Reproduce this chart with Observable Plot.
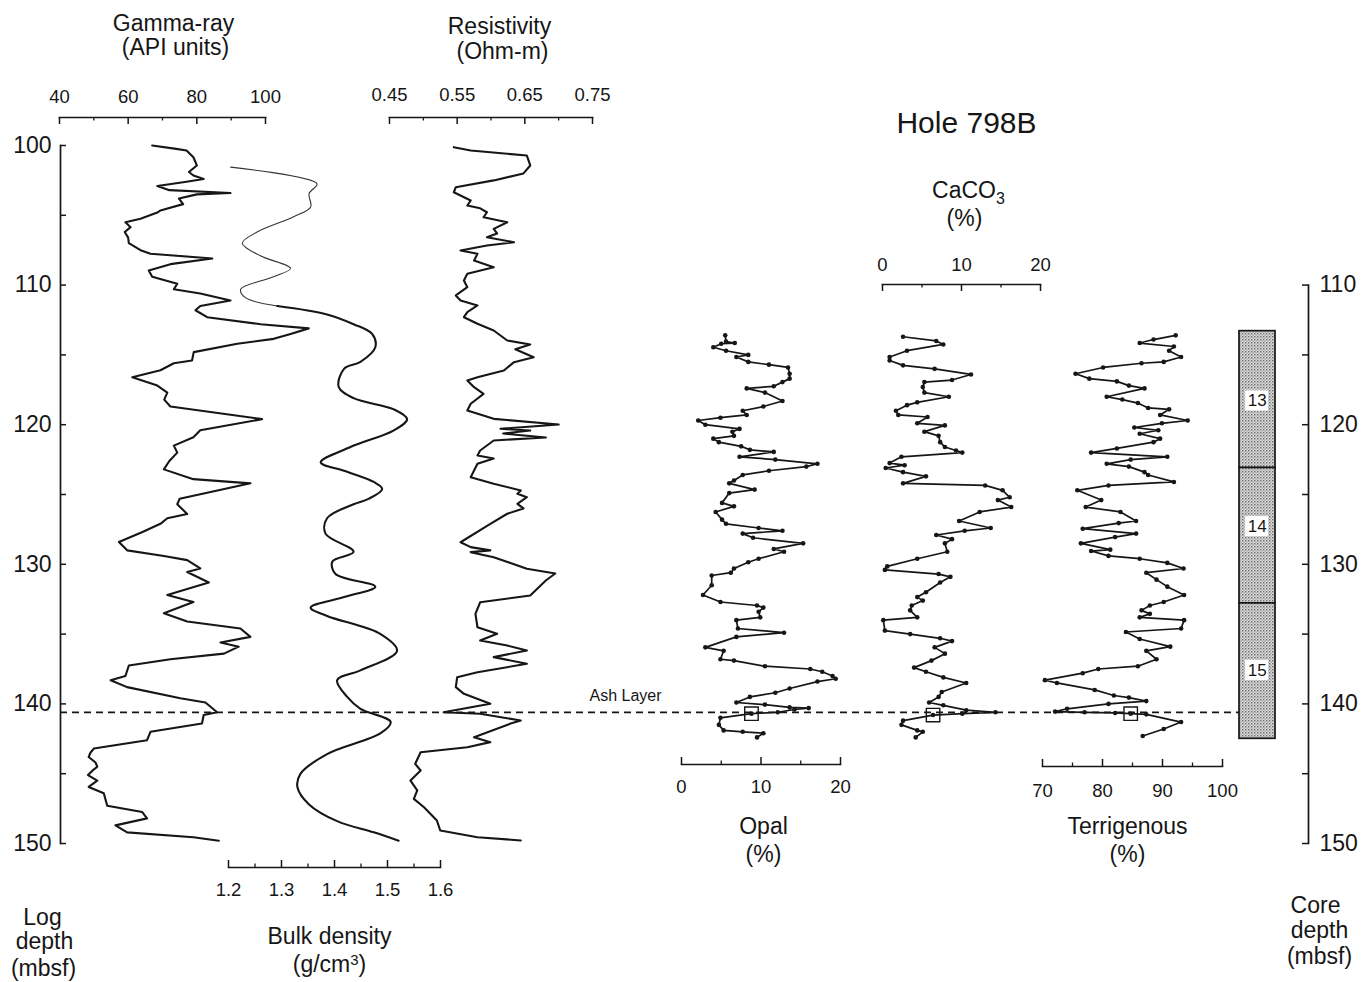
<!DOCTYPE html>
<html><head><meta charset="utf-8">
<script src="https://cdn.jsdelivr.net/npm/d3@7"></script>
<script src="https://cdn.jsdelivr.net/npm/@observablehq/plot@0.6"></script>
<style>
html,body{margin:0;padding:0;background:#fff;}
#chart{position:relative;width:1371px;height:982px;background:#fff;overflow:hidden;}
#chart svg{position:absolute;left:0;top:0;overflow:visible;}
</style></head><body><div id="chart"></div>
<script>
// ---------------- data ----------------
const gammaDepth = [100.0,100.24,100.36,100.84,101.43,101.9,102.15,102.4,102.6,102.9,
103.2,103.4,103.5,103.8,104.2,104.65,104.8,105.25,105.5,105.85,
106.2,106.6,107.0,107.5,107.75,108.1,108.5,108.95,109.4,109.9,
110.3,110.6,111.1,111.5,111.8,112.3,112.8,113.1,113.5,113.85,
114.2,114.8,115.4,115.6,116.1,116.6,117.2,117.7,118.2,118.7,
119.6,120.4,120.9,121.5,122.0,122.6,123.2,123.9,124.2,124.6,
125.3,125.7,126.4,126.7,127.1,127.7,128.4,129.0,129.4,129.7,
130.3,130.55,131.3,131.8,132.2,132.7,133.5,134.1,134.6,135.2,
135.6,135.9,136.4,136.8,137.25,138.0,138.3,138.8,139.6,139.9,
140.2,140.6,140.8,141.4,142.0,142.6,143.2,143.5,143.8,144.2,
144.5,144.8,145.1,145.5,145.95,146.4,147.3,147.75,148.2,148.7,
149.2,149.55,149.8];
const gammaValue = [67,74,77,79,80,77.7,79,82,77,68.5,
72,89.8,80,74.8,76,69.4,68.5,63.6,59.2,60.7,
59,60,60.2,63.6,66.5,84.5,72.3,66,67,74.3,
73.3,81,89.8,81,79.6,83,98.6,112.6,107.3,102.4,
91.8,79.1,78.6,73.3,69.4,61.2,68.5,71.4,70.5,72.3,
99,81,79,73.3,74.3,72,70.4,79,95.6,88,
75,74.3,77.2,71.4,69.4,64,57.3,59.7,70.4,77.2,
81,77.2,83.5,76.7,71.4,79,70.4,77.2,92.7,95.6,
86.9,92.2,87.9,72.3,60.2,59.2,54.9,59.7,75.2,82.5,
84,85.9,82,81.5,66.5,65.5,50,49,48.5,50.5,
51,49.5,48.3,51,48.5,52.9,53.9,64.1,65.5,56.3,
59.7,79,86.4];

const densityDepth = [101.55,102.75,103.45,104.4,105.1,106.2,107.0,107.9,108.8,109.4,
110.3,110.9,111.5,112.1,112.8,113.5,114.45,115.5,116.0,117.3,
118.1,118.9,119.6,120.4,121.6,122.7,123.3,124.1,124.6,125.3,
125.7,126.7,127.8,129.1,129.8,130.7,131.6,132.35,133.1,133.7,
135.0,136.2,137.6,138.3,139.5,140.35,141.3,142.1,143.6,145.0,
145.95,147.2,148.4,149.2,149.8];
const densityValue = [1.204,1.367,1.352,1.355,1.323,1.254,1.226,1.260,1.317,1.285,
1.223,1.232,1.292,1.386,1.436,1.471,1.477,1.449,1.418,1.408,
1.436,1.512,1.537,1.512,1.430,1.374,1.418,1.474,1.490,1.465,
1.436,1.386,1.383,1.436,1.396,1.402,1.477,1.418,1.355,1.386,
1.487,1.518,1.449,1.405,1.424,1.449,1.506,1.487,1.386,1.336,
1.330,1.352,1.405,1.474,1.521];

const resDepth = [100.12,100.36,100.72,101.43,102.0,102.5,102.99,103.35,103.94,104.3,
104.5,104.78,105.14,105.5,105.97,106.3,106.57,106.93,107.16,107.52,
107.76,108.24,108.72,109.19,109.67,110.15,110.74,111.1,111.46,111.94,
112.3,112.77,113.25,113.97,114.26,114.6,115.17,115.52,116.12,116.6,
116.83,117.31,117.79,118.5,118.98,119.58,119.99,120.29,120.42,120.63,
120.92,121.13,121.85,122.2,122.42,122.8,123.28,123.76,124.23,124.71,
124.95,125.19,125.67,126.0,126.38,127.1,128.42,128.77,129.0,129.13,
129.49,130.32,130.66,131.16,132.24,132.72,133.55,134.51,134.98,135.46,
135.82,136.17,136.65,137.13,137.73,138.09,138.8,139.28,139.99,140.6,
140.71,141.19,141.41,142.39,142.74,143.1,143.46,144.29,144.77,145.49,
146.2,146.8,147.4,148.35,149.07,149.55,149.78];
const resValue = [0.545,0.570,0.653,0.658,0.648,0.604,0.548,0.545,0.570,0.565,
0.584,0.594,0.589,0.624,0.604,0.609,0.594,0.634,0.594,0.555,
0.580,0.575,0.604,0.565,0.560,0.565,0.548,0.555,0.580,0.565,
0.560,0.580,0.604,0.624,0.658,0.636,0.663,0.634,0.619,0.580,
0.565,0.575,0.589,0.570,0.565,0.604,0.700,0.614,0.658,0.618,
0.681,0.604,0.584,0.580,0.604,0.580,0.575,0.570,0.604,0.644,
0.639,0.653,0.639,0.648,0.624,0.599,0.555,0.570,0.599,0.570,
0.604,0.653,0.695,0.681,0.658,0.584,0.577,0.580,0.609,0.584,
0.624,0.653,0.604,0.653,0.580,0.550,0.548,0.560,0.599,0.530,
0.584,0.644,0.629,0.575,0.599,0.565,0.496,0.488,0.496,0.481,
0.491,0.486,0.501,0.520,0.525,0.580,0.644];

const opalDepth = [113.6,114.05,114.15,114.2,114.45,114.7,115.0,115.15,115.5,115.7,
115.9,116.35,116.7,116.95,117.25,117.4,117.7,118.3,118.7,119.0,
119.3,119.5,119.7,120.0,120.3,120.5,120.8,121.0,121.25,121.55,
121.8,121.95,122.3,122.5,122.8,123.0,123.3,123.6,124.0,124.2,
124.65,124.9,125.6,125.85,126.25,126.8,127.1,127.4,127.6,127.8,
128.1,128.5,128.9,129.1,129.6,129.85,130.3,130.6,130.8,131.5,
132.2,132.7,132.95,133.1,133.4,133.8,134.0,134.6,134.9,135.2,
135.95,136.2,136.8,136.9,137.3,137.5,137.7,138.0,138.2,138.4,
138.9,139.2,139.5,139.9,140.05,140.25,140.3,140.4,140.6,140.7,
141.0,141.5,141.9,142.0,142.1,142.4];
const opalValue = [5.5,5.6,6.7,5.0,4.0,5.6,8.4,6.9,8.4,11.0,
13.4,13.6,13.6,12.7,11.6,8.2,10.5,12.7,10.3,7.7,
8.2,4.9,2.1,3.0,7.3,6.4,6.6,4.0,4.7,7.5,
8.6,11.6,7.3,11.8,17.1,15.7,11.0,7.7,6.6,6.0,
9.2,6.0,5.1,6.6,4.3,5.1,5.6,9.7,12.7,7.7,
9.0,15.3,11.6,12.9,9.7,8.4,6.6,6.2,3.8,3.8,
2.7,4.9,9.5,10.3,9.7,9.9,6.9,7.1,12.9,6.9,
3.0,5.3,4.9,6.6,10.5,16.2,17.7,19.0,19.4,17.1,
13.6,11.8,8.6,6.9,10.5,13.6,16.0,14.2,12.1,8.8,
4.9,4.7,5.3,7.7,10.3,9.5];

const carbDepth = [113.7,114.0,114.25,114.7,115.15,115.4,115.75,116.0,116.4,116.8,
116.95,117.3,117.7,118.0,118.4,118.6,119.0,119.3,119.45,119.9,
120.05,120.5,120.8,121.25,121.6,121.85,122.0,122.3,122.75,122.9,
123.1,123.4,123.7,124.2,124.35,124.7,125.2,125.4,125.9,126.25,
126.9,127.4,127.6,127.9,128.2,128.5,129.1,129.6,130.15,130.4,
130.7,130.9,131.3,132.0,132.35,132.6,132.95,133.3,133.8,134.0,
134.75,135.0,135.3,135.5,135.95,136.4,136.9,137.4,137.7,138.1,
138.5,139.15,139.5,139.9,140.1,140.45,140.6,140.7,140.8,141.2,
141.5,141.9,142.0,142.4];
const carbValue = [2.6,6.8,7.7,3.1,0.9,0.9,2.6,6.6,11.2,8.8,
5.3,5.1,5.3,8.4,4.4,3.1,1.7,2.0,5.7,4.4,
7.9,5.3,7.1,7.3,7.9,9.3,10.1,2.4,0.9,2.8,
0.4,2.6,5.5,2.6,13.0,15.2,16.1,14.6,16.3,12.3,
9.7,13.7,10.4,6.8,8.8,7.9,8.2,4.4,0.6,0.3,
7.1,8.6,7.3,5.5,4.4,5.1,3.7,3.5,4.4,0.1,
0.3,3.5,7.3,8.8,6.6,7.9,6.2,4.0,5.5,7.7,
10.6,7.5,7.1,5.9,7.7,10.6,14.3,10.1,6.4,2.6,
2.4,4.4,5.1,4.2];

const terrDepth = [113.6,113.9,114.15,114.4,114.7,115.15,115.5,115.6,115.9,116.35,
116.7,116.9,117.2,117.4,118.0,118.2,118.45,118.8,118.9,119.3,
119.7,119.9,120.2,120.4,120.65,121.0,121.25,121.7,122.0,122.3,
122.5,122.8,123.0,123.4,123.6,124.1,124.35,124.7,125.4,125.9,
126.25,126.9,127.05,127.45,127.8,128.05,128.5,128.95,129.05,129.4,
129.6,129.9,130.3,130.6,131.1,131.6,132.2,132.7,132.95,133.3,
133.55,133.8,134.0,134.6,134.85,135.35,135.9,136.2,136.8,137.3,
137.5,137.8,138.3,138.5,139.0,139.4,139.55,139.8,140.0,140.35,
140.55,140.6,140.65,140.7,140.75,141.3,141.8,142.3];
const terrValue = [92.2,88.5,86.2,91.9,91.1,93.1,90.2,86.5,80.1,75.5,
77.8,82.4,84.4,87.0,80.7,83.3,85.9,87.6,91.1,89.6,
94.2,89.9,85.3,89.3,86.2,89.6,88.5,82.4,78.1,90.8,
84.7,80.7,84.4,87.0,87.6,91.9,81.0,75.8,79.8,77.2,
83.0,85.6,82.7,76.7,85.6,82.1,76.4,81.3,78.1,81.0,
86.2,90.8,93.5,87.3,89.0,90.8,93.6,90.2,87.9,86.5,
87.9,86.2,93.6,93.1,83.9,86.2,91.3,87.3,89.0,85.9,
79.3,76.7,70.4,72.4,78.7,81.9,84.4,87.3,81.0,74.1,
72.1,77.0,82.1,84.7,87.3,93.1,90.2,86.7];

// ash-layer samples (open squares)
const ashDepth = 140.6;
const ashSampleDepth = [140.7, 140.8, 140.7];     // opal, CaCO3, terrigenous
const ashSampleValue = [8.8, 6.4, 84.7];

// core recovery column
const coreNames = ["13", "14", "15"];
const coreTop = [113.3, 123.1, 132.8];
const coreBottom = [123.1, 132.8, 142.5];
const coreLabelDepth = [118.3, 127.3, 137.6];

// axis ticks
const gammaTicks = [40, 60, 80, 100], gammaMinor = [50, 70, 90];
const resTicks = [0.45, 0.55, 0.65, 0.75], resMinor = [0.50, 0.60, 0.70];
const densTicks = [1.2, 1.3, 1.4, 1.5, 1.6], densMinor = [1.25, 1.35, 1.45, 1.55];
const pctTicks = [0, 10, 20], pctMinor = [5, 15];
const terrTicks = [70, 80, 90, 100], terrMinor = [75, 85, 95];
const logDepthTicks = [100, 110, 120, 130, 140, 150];
const logDepthMinor = [100, 105, 110, 115, 120, 125, 130, 135, 140, 145, 150];
const coreDepthTicks = [110, 120, 130, 140, 150];
const coreDepthMinor = [110, 115, 120, 125, 130, 135, 140, 145, 150];

// ---------------- drawing ----------------
const W = 1371, H = 982;
const Y0 = 145, Y1 = 843;            // pixel range of depth 100..150
const FONT = "'Liberation Sans', Arial, Helvetica, sans-serif";
const INK = "#161616";
const baseStyle = {background: "transparent", overflow: "visible", fontFamily: FONT, color: INK};
const rows = (ds, vs) => ds.map((d, i) => ({d, v: vs[i]}));
const depthY = {domain: [100, 150], range: [Y0, Y1], axis: null};
const Y110 = Y0 + (Y1 - Y0) * 10 / 50;   // pixel of depth 110

const gamma = rows(gammaDepth, gammaValue);
const density = rows(densityDepth, densityValue);
const densityUpper = density.filter(p => p.d <= 111.5);
const densityLower = density.filter(p => p.d >= 111.5);
const res = rows(resDepth, resValue);
const opal = rows(opalDepth, opalValue);
const carb = rows(carbDepth, carbValue);
const terr = rows(terrDepth, terrValue);
const ash = rows(ashSampleDepth, ashSampleValue);
const cores = coreNames.map((name, i) => ({name, top: coreTop[i], bottom: coreBottom[i], mid: coreLabelDepth[i]}));

function track({domain, x0, x1, axisY, anchor, major, minor, fmt, pad, marks}) {
  const TL = 7;
  const top = anchor === "top" ? axisY : axisY - TL;
  const bottom = anchor === "top" ? axisY + TL : axisY;
  const minorOpt = {x: d => d, stroke: INK, strokeWidth: 1.3};
  minorOpt[anchor === "top" ? "insetBottom" : "insetTop"] = 3.5;
  return Plot.plot({
    width: W, height: H,
    marginLeft: x0, marginRight: W - x1, marginTop: top, marginBottom: H - bottom,
    x: {domain},
    y: depthY,
    style: baseStyle,
    marks: [
      Plot.frame({anchor, stroke: INK, strokeWidth: 1.7}),
      Plot.tickX(major, {x: d => d, stroke: INK, strokeWidth: 1.5}),
      Plot.tickX(minor, minorOpt),
      Plot.axisX({anchor, ticks: major, tickSize: 0, tickPadding: pad, tickFormat: fmt, fontSize: 18.5, label: null, fill: INK}),
      ...marks
    ]
  });
}

const logLine = (data, w = 2.1, extra = {}) =>
  Plot.line(data, {x: "v", y: "d", stroke: INK, strokeWidth: w, strokeLinejoin: "round", ...extra});
const sampleMarks = (data) => [
  Plot.line(data, {x: "v", y: "d", stroke: INK, strokeWidth: 1.7, strokeLinejoin: "round"}),
  Plot.dot(data, {x: "v", y: "d", r: 2.3, fill: INK})
];
const ashSquare = (i) => Plot.dot([ash[i]], {x: "v", y: "d", symbol: "square", r: 7.6, fill: "none", stroke: INK, strokeWidth: 1.4});

const layers = [];

// ash-layer dashed line (beneath everything)
layers.push(Plot.plot({
  width: W, height: H, marginLeft: 60, marginRight: W - 1239, marginTop: Y0, marginBottom: H - Y1,
  y: depthY, style: baseStyle,
  marks: [Plot.ruleY([ashDepth], {y: d => d, stroke: INK, strokeWidth: 1.7, strokeDasharray: "7,5"})]
}));

// Gamma-ray
layers.push(track({domain: [40, 100], x0: 59, x1: 265, axisY: 117, anchor: "top",
  major: gammaTicks, minor: gammaMinor, fmt: d3.format("d"), pad: 15,
  marks: [logLine(gamma)]}));

// Bulk density
layers.push(track({domain: [1.2, 1.6], x0: 228, x1: 440, axisY: 867, anchor: "bottom",
  major: densTicks, minor: densMinor, fmt: d3.format(".1f"), pad: 15,
  marks: [logLine(densityUpper, 1.1, {curve: "catmull-rom", stroke: "#333"}),
          logLine(densityLower, 2.1, {curve: "catmull-rom"})]}));

// Resistivity
layers.push(track({domain: [0.45, 0.75], x0: 389, x1: 592, axisY: 117, anchor: "top",
  major: resTicks, minor: resMinor, fmt: d3.format(".2f"), pad: 17,
  marks: [logLine(res)]}));

// Opal
layers.push(track({domain: [0, 20], x0: 681, x1: 840, axisY: 764, anchor: "bottom",
  major: pctTicks, minor: pctMinor, fmt: d3.format("d"), pad: 15,
  marks: [...sampleMarks(opal), ashSquare(0)]}));

// CaCO3
layers.push(track({domain: [0, 20], x0: 882, x1: 1040, axisY: 284, anchor: "top",
  major: pctTicks, minor: pctMinor, fmt: d3.format("d"), pad: 14,
  marks: [...sampleMarks(carb), ashSquare(1)]}));

// Terrigenous
layers.push(track({domain: [70, 100], x0: 1042, x1: 1222, axisY: 766, anchor: "bottom",
  major: terrTicks, minor: terrMinor, fmt: d3.format("d"), pad: 17,
  marks: [...sampleMarks(terr), ashSquare(2)]}));

// Core column
const coreSvg = Plot.plot({
  width: W, height: H, marginLeft: 1239, marginRight: W - 1275, marginTop: Y0, marginBottom: H - Y1,
  x: {domain: [0, 1], axis: null}, y: depthY, style: baseStyle,
  marks: [
    Plot.rect(cores, {x1: 0, x2: 1, y1: "top", y2: "bottom", fill: "#c9c9c9", stroke: INK, strokeWidth: 1.7}),
    Plot.rect(cores, {x1: 0.17, x2: 0.81, y1: d => d.mid - 0.72, y2: d => d.mid + 0.72, fill: "white"}),
    Plot.text(cores, {x: 0.49, y: "mid", text: "name", fontSize: 17, fill: INK})
  ]
});
{
  const ns = "http://www.w3.org/2000/svg";
  const defs = document.createElementNS(ns, "defs");
  defs.innerHTML = '<pattern id="stip" width="3" height="3" patternUnits="userSpaceOnUse">' +
    '<rect width="3" height="3" fill="#dcdcdc"/><rect x="0" y="0" width="1.4" height="1.4" fill="#6a6a6a"/>' +
    '<rect x="1.5" y="1.5" width="1.2" height="1.2" fill="#8a8a8a"/></pattern>';
  coreSvg.insertBefore(defs, coreSvg.firstChild);
  coreSvg.querySelectorAll('g[fill="#c9c9c9"]').forEach(g => g.setAttribute("fill", "url(#stip)"));
}
layers.push(coreSvg);

// Left (log depth) axis
layers.push(Plot.plot({
  width: W, height: H, marginLeft: 60, marginRight: W - 66, marginTop: Y0, marginBottom: H - Y1,
  y: {domain: [100, 150], range: [Y0, Y1]}, style: baseStyle,
  marks: [
    Plot.frame({anchor: "left", stroke: INK, strokeWidth: 1.7}),
    Plot.tickY(logDepthMinor, {y: d => d, stroke: INK, strokeWidth: 1.5}),
    Plot.axisY({anchor: "left", ticks: logDepthTicks, tickSize: 0, tickPadding: 9, fontSize: 23, label: null, fill: INK})
  ]
}));

// Right (core depth) axis
layers.push(Plot.plot({
  width: W, height: H, marginLeft: 1302, marginRight: W - 1308, marginTop: Y110, marginBottom: H - Y1,
  y: {domain: [110, 150], range: [Y110, Y1]}, style: baseStyle,
  marks: [
    Plot.frame({anchor: "right", stroke: INK, strokeWidth: 1.7}),
    Plot.tickY(coreDepthMinor, {y: d => d, stroke: INK, strokeWidth: 1.5}),
    Plot.axisY({anchor: "right", ticks: coreDepthTicks, tickSize: 0, tickPadding: 11, fontSize: 23, label: null, fill: INK})
  ]
}));

// Titles and annotations
const label = (t, x, y, size = 23) => Plot.text([t], {text: d => d, frameAnchor: "top-left", dx: x, dy: y,
  fontSize: size, textAnchor: "middle", lineAnchor: "middle", fill: INK});
const textSvg = Plot.plot({
  width: W, height: H, margin: 0, style: baseStyle,
  marks: [
    label("Gamma-ray", 173, 23), label("(API units)", 175, 47),
    label("Resistivity", 499, 26), label("(Ohm-m)", 502, 51),
    label("Hole 798B", 966, 123, 30),
    label("CaCO3", 968, 190), label("(%)", 964, 218),
    label("Opal", 763, 826), label("(%)", 763, 854),
    label("Terrigenous", 1127, 826), label("(%)", 1127, 854),
    label("Bulk density", 329, 936), label("(g/cm3)", 329, 964),
    label("Log", 42, 917), label("depth", 44, 941), label("(mbsf)", 43, 968),
    label("Core", 1315, 905), label("depth", 1319, 930), label("(mbsf)", 1319, 956),
    label("Ash Layer", 625, 695, 16)
  ]
});
// real subscript / superscript for the chemical and unit labels
{
  const ns = "http://www.w3.org/2000/svg";
  const span = (txt, size, dy) => {
    const s = document.createElementNS(ns, "tspan");
    s.style.fontSize = size + "px";
    s.setAttribute("dy", dy);
    s.textContent = txt;
    return s;
  };
  textSvg.querySelectorAll("text").forEach(el => {
    const t = el.textContent;
    if (t === "CaCO3") {
      el.textContent = "CaCO";
      el.appendChild(span("3", 16, 6));
    } else if (t === "(g/cm3)") {
      el.textContent = "(g/cm";
      el.appendChild(span("3", 15, -7));
      el.appendChild(span(")", 23, 7));
    }
  });
}
layers.push(textSvg);

const chart = document.getElementById("chart");
layers.forEach(svg => chart.appendChild(svg));
</script></body></html>
